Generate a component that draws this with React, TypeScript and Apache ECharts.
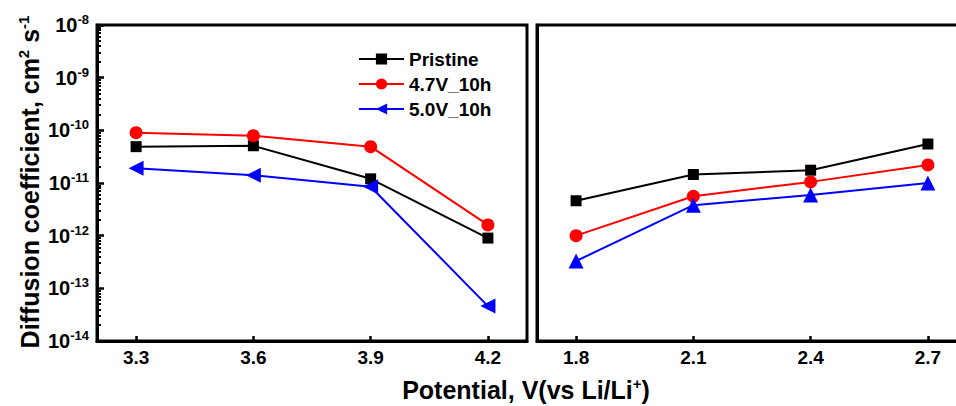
import React, { useEffect, useRef } from "react";
import * as echarts from "echarts";

const seriesNames = ["Pristine", "4.7V_10h", "5.0V_10h"];
const leftX = [3.3, 3.6, 3.9, 4.2];
const rightX = [1.8, 2.1, 2.4, 2.7];
const pristineLeft = [4.9e-11, 5.1e-11, 1.2e-11, 9.0e-13];
const h47Left = [9.0e-11, 7.9e-11, 4.9e-11, 1.6e-12];
const v50Left = [1.9e-11, 1.4e-11, 8.5e-12, 4.6e-14];
const pristineRight = [4.6e-12, 1.45e-11, 1.75e-11, 5.5e-11];
const h47Right = [1.0e-12, 5.6e-12, 1.05e-11, 2.2e-11];
const v50Right = [3.3e-13, 3.8e-12, 5.9e-12, 1.0e-11];
const colors = ["#000000", "#ff0000", "#0000ff"];

const FONT = "'Liberation Sans', Arial, sans-serif";

const pairs = (xs: number[], ys: number[]) => xs.map((x, i) => [x, ys[i]]);

export default function App() {
  const ref = useRef<HTMLDivElement>(null);
  useEffect(() => {
    if (!ref.current) return;
    const chart = echarts.init(ref.current, null, { renderer: "svg" });
    const yBase = {
      type: "log" as const,
      logBase: 10,
      min: 1e-14,
      max: 1e-8,
      splitNumber: 6,
      splitLine: { show: false },
      axisLine: { show: true, lineStyle: { color: "#000", width: 3 } },
    };
    const xBase = {
      type: "value" as const,
      splitLine: { show: false },
      axisLine: { show: true, onZero: false, lineStyle: { color: "#000", width: 3 } },
      axisTick: { show: true, inside: true, length: 5, lineStyle: { color: "#000", width: 2.5 } },
      axisLabel: {
        color: "#000",
        fontFamily: FONT,
        fontWeight: "bold",
        fontSize: 19,
        margin: 7,
        formatter: (v: number) => v.toFixed(1),
      },
    };
    const mk = (
      name: string,
      xs: number[],
      ys: number[],
      idx: number,
      ci: number,
      symbol: string,
      size: number,
      rot = 0
    ) => ({
      type: "line",
      name,
      xAxisIndex: idx,
      yAxisIndex: idx,
      data: pairs(xs, ys),
      symbol,
      symbolSize: size,
      symbolRotate: rot,
      showAllSymbol: true,
      itemStyle: { color: colors[ci] },
      lineStyle: { color: colors[ci], width: 2 },
    });
    const sup = (fs: number, pad: number) => ({
      fontFamily: FONT,
      fontWeight: "bold",
      fontSize: fs,
      fill: "#000",
      color: "#000",
      verticalAlign: "top",
      padding: [0, 0, pad, 0],
    });
    const base = (fs: number) => ({
      fontFamily: FONT,
      fontWeight: "bold",
      fontSize: fs,
      fill: "#000",
      color: "#000",
    });
    const option: any = {
      animation: false,
      backgroundColor: "#ffffff",
      grid: [
        { left: 97, top: 25, width: 430, height: 316, show: true, borderColor: "#000", borderWidth: 3 },
        { left: 537, top: 25, width: 430, height: 316, show: true, borderColor: "#000", borderWidth: 3 },
      ],
      xAxis: [
        {
          ...xBase,
          gridIndex: 0,
          min: 3.2,
          max: 4.3,
          axisTick: { ...xBase.axisTick, customValues: leftX },
          axisLabel: { ...xBase.axisLabel, customValues: leftX },
        },
        {
          ...xBase,
          gridIndex: 1,
          min: 1.7,
          max: 2.8,
          axisTick: { ...xBase.axisTick, customValues: rightX },
          axisLabel: { ...xBase.axisLabel, customValues: rightX },
        },
      ],
      yAxis: [
        {
          ...yBase,
          gridIndex: 0,
          axisTick: { show: true, inside: true, length: 7, lineStyle: { color: "#000", width: 2.5 } },
          minorTick: { show: true, splitNumber: 9, length: 4, lineStyle: { color: "#000", width: 2 } },
          axisLabel: {
            margin: 8,
            formatter: (v: number) => `{b|10}{s|${Math.round(Math.log10(v))}}`,
            rich: {
              b: { ...base(20), lineHeight: 24 },
              s: { ...sup(13, 9), lineHeight: 24 },
            },
          },
        },
        {
          ...yBase,
          gridIndex: 1,
          axisTick: { show: false },
          axisLabel: { show: false },
        },
      ],
      legend: {
        left: 353,
        top: 44,
        orient: "vertical",
        itemWidth: 45,
        itemHeight: 14,
        itemGap: 5,
        data: seriesNames,
        textStyle: { fontFamily: FONT, fontWeight: "bold", fontSize: 19, color: "#000", lineHeight: 20 },
        symbolRotate: "inherit",
      },
      graphic: [
        {
          type: "text",
          x: 526,
          y: 390,
          style: {
            text: "{b|Potential, V(vs Li/Li}{s|+}{b|)}",
            align: "center",
            verticalAlign: "middle",
            rich: {
              b: { ...base(25), lineHeight: 28 },
              s: { ...sup(15, 11), lineHeight: 28 },
            },
          },
        },
        {
          type: "text",
          x: 30,
          y: 182,
          rotation: Math.PI / 2,
          style: {
            text: "{b|Diffusion coefficient, cm}{s|2}{b| s}{s|-1}",
            align: "center",
            verticalAlign: "middle",
            rich: {
              b: { ...base(25), lineHeight: 28 },
              s: { ...sup(15, 10), lineHeight: 28 },
            },
          },
        },
      ],
      series: [
        mk(seriesNames[0], leftX, pristineLeft, 0, 0, "rect", 11),
        mk(seriesNames[1], leftX, h47Left, 0, 1, "circle", 13),
        mk(seriesNames[2], leftX, v50Left, 0, 2, "triangle", 15, 90),
        mk(seriesNames[0], rightX, pristineRight, 1, 0, "rect", 11),
        mk(seriesNames[1], rightX, h47Right, 1, 1, "circle", 13),
        mk(seriesNames[2], rightX, v50Right, 1, 2, "triangle", 15),
      ],
    };
    chart.setOption(option);
    return () => chart.dispose();
  }, []);
  return (
    <div style={{ position: "fixed", left: 0, top: 0, width: 956, height: 406, overflow: "hidden", background: "#fff" }}>
      <div ref={ref} style={{ width: 972, height: 406 }} />
    </div>
  );
}
